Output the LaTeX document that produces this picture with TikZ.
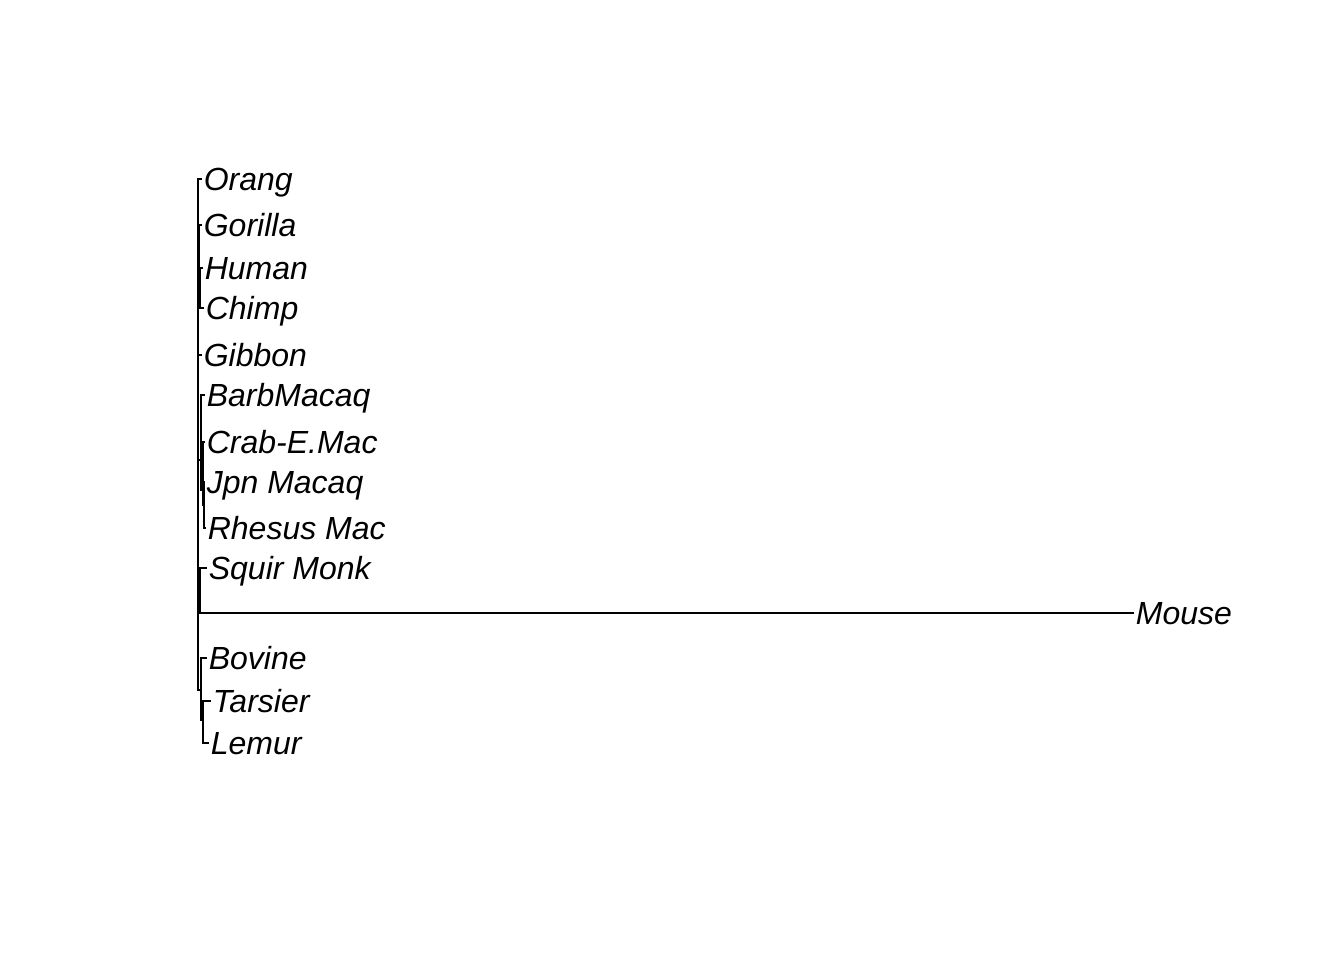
\documentclass[tikz,border=0pt]{standalone}
\usepackage{fontspec}
\setmainfont{Liberation Sans}
\begin{document}
\begin{tikzpicture}[x=1pt,y=-1pt,line width=1.7pt,
  tip/.style={anchor=west,inner sep=1pt,text height=23pt,text depth=0pt,yshift=-1pt,font=\fontsize{32}{37}\selectfont\itshape},
  edge/.style={draw=black,line width=1.7pt}]
\useasboundingbox (0,0) rectangle (1344,960);
% inner nodes
\coordinate (root) at (198,395);
\coordinate (hc)   at (199,262);
\coordinate (hc2)  at (200,286);
\coordinate (ow)   at (201,460);
\coordinate (ow2)  at (203,490);
\coordinate (ow3)  at (204,505);
\coordinate (sq)   at (200,589);
\coordinate (bt)   at (201,690);
\coordinate (tl)   at (203,720);
% tips
\node[tip] (orang)   at (202,178)  {Orang};
\node[tip] (gorilla) at (202,224)  {Gorilla};
\node[tip] (human)   at (203,267)  {Human};
\node[tip] (chimp)   at (204,307)  {Chimp};
\node[tip] (gibbon)  at (202,354)  {Gibbon};
\node[tip] (barb)    at (205,394)  {BarbMacaq};
\node[tip] (crab)    at (205,441)  {Crab-E.Mac};
\node[tip] (jpn)     at (205,481)  {Jpn Macaq};
\node[tip] (rhesus)  at (206,527)  {Rhesus Mac};
\node[tip] (squir)   at (207,567)  {Squir Monk};
\node[tip] (mouse)   at (1134,612) {Mouse};
\node[tip] (bovine)  at (207,657)  {Bovine};
\node[tip] (tarsier) at (211,700)  {Tarsier};
\node[tip] (lemur)   at (209,742)  {Lemur};
% branches
\foreach \a/\b in {root/orang,root/hc,root/gibbon,root/ow,root/sq,root/bt,
  hc/gorilla,hc/hc2,hc2/human,hc2/chimp,
  ow/barb,ow/ow2,ow2/crab,ow2/ow3,ow3/jpn,ow3/rhesus,
  sq/squir,sq/mouse,bt/bovine,bt/tl,tl/tarsier,tl/lemur}
  \draw[edge] (\a) |- (\b.west);
\end{tikzpicture}
\end{document}
